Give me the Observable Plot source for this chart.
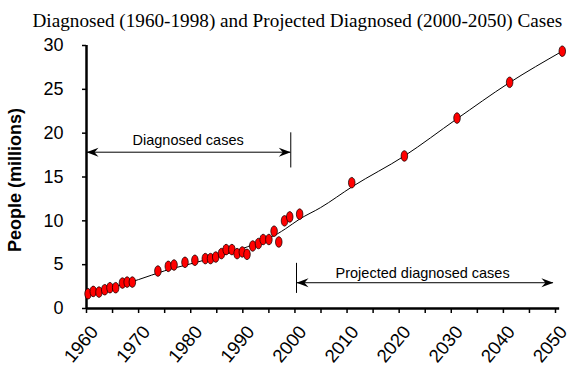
<!DOCTYPE html>
<html>
<head>
<meta charset="utf-8">
<script src="https://cdn.jsdelivr.net/npm/d3@7"></script>
<script src="https://cdn.jsdelivr.net/npm/@observablehq/plot@0.6"></script>
<style>
  html, body { margin: 0; padding: 0; background: #fff; }
  #chart svg { display: block; }
</style>
</head>
<body>
<div id="chart"></div>
<script>
// ---- data ----
const titleText = "Diagnosed (1960-1998) and Projected Diagnosed (2000-2050) Cases";
const yLabel = "People (millions)";

const diagYears = [1960.3,1961.3,1962.4,1963.5,1964.5,1965.6,1966.9,1967.8,1968.8,1973.7,1975.7,1976.8,1978.9,1980.8,1982.8,1983.8,1984.8,1985.9,1986.8,1987.9,1988.9,1989.9,1990.8,1991.9,1993.0,1993.9,1995.0,1996.0,1996.9,1998.0,1999.0];
const diagValues = [1.68,1.95,1.87,2.14,2.37,2.37,2.90,3.01,3.01,4.27,4.81,4.96,5.27,5.50,5.69,5.69,5.87,6.26,6.72,6.72,6.26,6.45,6.18,7.13,7.41,7.87,7.87,8.82,7.59,10.0,10.45];

const projYears = [2000.9,2010.9,2021.0,2031.1,2041.2,2051.3];
const projValues = [10.76,14.35,17.4,21.72,25.8,29.35];

const trendYears = [1960,1965,1970,1975,1980,1985,1988.9,1992.8,1996.6,1998.2,2000.9,2004.9,2011,2021,2031,2041,2051.3];
const trendValues = [1.6,2.4,3.3,4.3,5.1,5.9,6.6,7.5,8.5,9.1,10.2,11.5,13.9,17.4,21.6,25.7,29.35];

const yTicks = [0,5,10,15,20,25,30];
const xTicks = [1960,1970,1980,1990,2000,2010,2020,2030,2040,2050];
const xMinorTicks = [1965,1975,1985,1995,2005,2015,2025,2035,2045];

// annotations
const diagLabel = "Diagnosed cases";
const projLabel = "Projected diagnosed cases";
const diagSpan = {x1: 1960, x2: 1999.2, y: 17.83, yLo: 16.03, yHi: 20.04, labelX: 1979.5, labelY: 19.2};
const projSpan = {x1: 2000.3, x2: 2049.6, y: 2.94, yLo: 1.72, yHi: 5.15, labelX: 2024.5, labelY: 4.0};

// ---- build ----
const points = diagYears.map((x, i) => ({x, y: diagValues[i]}))
  .concat(projYears.map((x, i) => ({x, y: projValues[i]})));
const trend = trendYears.map((x, i) => ({x, y: trendValues[i]}));

const ellipse = {
  draw(ctx, size) {
    const s = Math.sqrt(size / Math.PI);
    const rx = s * 0.62, ry = s, k = 0.5523;
    ctx.moveTo(rx, 0);
    ctx.bezierCurveTo(rx, ry * k, rx * k, ry, 0, ry);
    ctx.bezierCurveTo(-rx * k, ry, -rx, ry * k, -rx, 0);
    ctx.bezierCurveTo(-rx, -ry * k, -rx * k, -ry, 0, -ry);
    ctx.bezierCurveTo(rx * k, -ry, rx, -ry * k, rx, 0);
    ctx.closePath();
  }
};
const arrowHead = {
  draw(ctx) {
    ctx.moveTo(0, 0);
    ctx.lineTo(-12, -4.5);
    ctx.lineTo(-8, 0);
    ctx.lineTo(-12, 4.5);
    ctx.closePath();
  }
};

const heads = [
  {x: diagSpan.x1, y: diagSpan.y, r: 180},
  {x: diagSpan.x2, y: diagSpan.y, r: 0},
  {x: projSpan.x1, y: projSpan.y, r: 180},
  {x: projSpan.x2, y: projSpan.y, r: 0}
];

const FONT = "Liberation Sans, Arial, sans-serif";

const chart = Plot.plot({
  width: 587,
  height: 370,
  marginLeft: 86,
  marginRight: 32,
  marginTop: 45,
  marginBottom: 62,
  style: {background: "#fff", fontFamily: FONT, color: "#000"},
  x: {domain: [1960, 2050]},
  y: {domain: [0, 30]},
  marks: [
    // axes
    Plot.axisY({ticks: yTicks, tickSize: 4, tickPadding: 19, fontSize: 18, label: null, strokeWidth: 1.5}),
    Plot.axisX({ticks: xTicks.concat(xMinorTicks), tickSize: 5, text: null, label: null, strokeWidth: 1.5}),
    Plot.axisX({ticks: xTicks, tickSize: 0, tickRotate: -50, tickFormat: "d", fontSize: 18.5, label: null, tickPadding: 7, dx: 8, dy: 13}),
    Plot.ruleX([1960], {y1: 0, y2: 30, strokeWidth: 2.5}),
    Plot.ruleY([0], {x1: 1960, x2: 2050.8, strokeWidth: 2.5}),
    // trend line
    Plot.line(trend, {x: "x", y: "y", curve: "monotone-x", stroke: "#000", strokeWidth: 1}),
    // data points
    Plot.dot(points, {x: "x", y: "y", r: 5.3, symbol: ellipse, fill: "#ff0000", stroke: "#000", strokeWidth: 0.7}),
    // annotations: spans
    Plot.ruleY([diagSpan], {x1: "x1", x2: "x2", y: "y", stroke: "#000", strokeWidth: 1}),
    Plot.ruleX([diagSpan], {x: "x2", y1: "yLo", y2: "yHi", stroke: "#000", strokeWidth: 1}),
    Plot.ruleY([projSpan], {x1: "x1", x2: "x2", y: "y", stroke: "#000", strokeWidth: 1}),
    Plot.ruleX([projSpan], {x: "x1", y1: "yLo", y2: "yHi", stroke: "#000", strokeWidth: 1}),
    Plot.dot(heads, {x: "x", y: "y", rotate: "r", symbol: arrowHead, fill: "#000", stroke: "none", r: 5}),
    Plot.text([diagSpan], {x: "labelX", y: "labelY", text: () => diagLabel, fontSize: 14.5, fill: "#000"}),
    Plot.text([projSpan], {x: "labelX", y: "labelY", text: () => projLabel, fontSize: 14.5, fill: "#000"}),
    // y label
    Plot.text([yLabel], {frameAnchor: "left", textAnchor: "middle", dx: -71, dy: 3, rotate: -90, fontSize: 18, fontWeight: "bold", fill: "#000"}),
    // title
    Plot.text([titleText], {frameAnchor: "top-left", textAnchor: "start", dx: -54, dy: -32, fontSize: 19.2, fontFamily: "Liberation Serif, Times New Roman, serif", fill: "#000"})
  ]
});
document.getElementById("chart").appendChild(chart);
</script>
</body>
</html>
